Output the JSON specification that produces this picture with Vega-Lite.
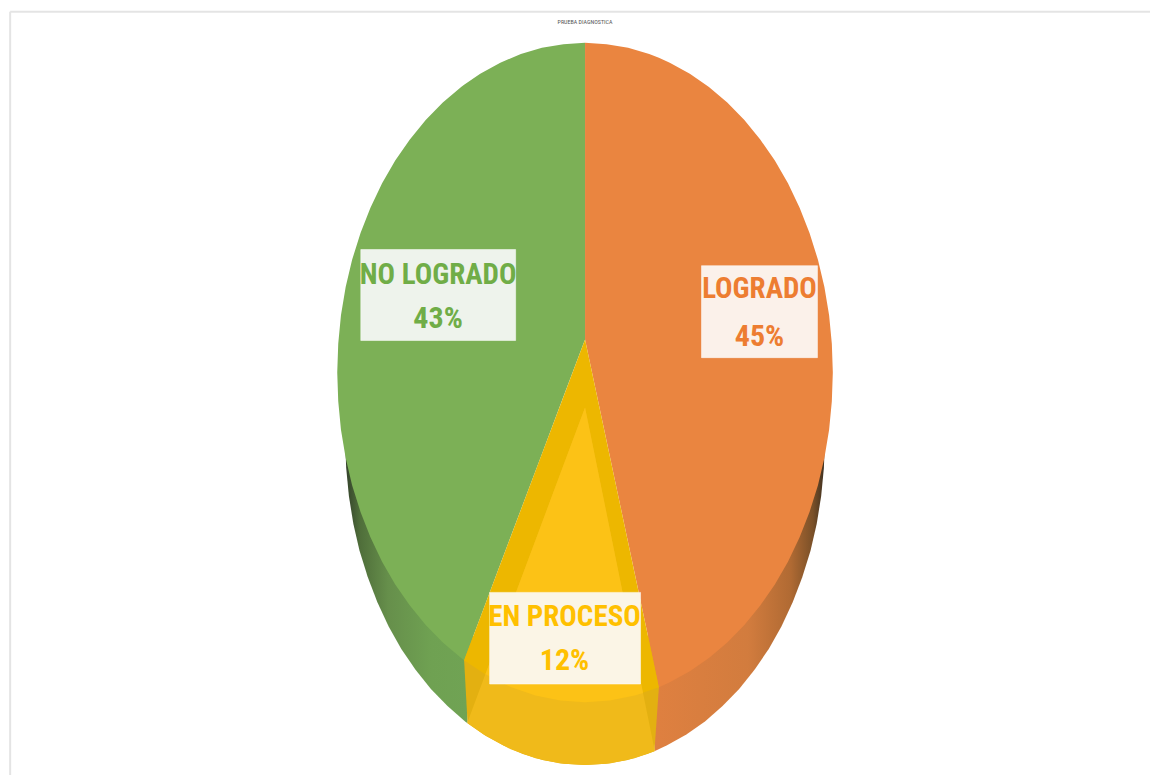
{"$schema":"https://vega.github.io/schema/vega-lite/v6.json","width":1151,"height":776,"autosize":{"type":"fit","contains":"padding"},"padding":0,"background":"white","view":{"stroke":null},
"title":{"text":"PRUEBA DIAGNOSTICA","fontSize":6,"font":"Roboto Condensed","fontWeight":"normal","color":"#555555","offset":-25,"anchor":"middle","frame":"group","dx":10},
"datasets":{
"caraVerde":[{"x":-100,"y":0,"y2":0},{"x":-99.6,"y":8.7,"y2":-8.7},{"x":-98.5,"y":17.4,"y2":-17.4},{"x":-96.6,"y":25.9,"y2":-25.9},{"x":-94,"y":34.2,"y2":-34.2},{"x":-90.6,"y":42.3,"y2":-42.3},{"x":-86.6,"y":50,"y2":-50},{"x":-81.9,"y":57.4,"y2":-57.4},{"x":-76.6,"y":64.3,"y2":-64.3},{"x":-70.7,"y":70.7,"y2":-70.7},{"x":-64.3,"y":76.6,"y2":-76.6},{"x":-57.4,"y":81.9,"y2":-81.9},{"x":-50,"y":86.6,"y2":-86.6},{"x":-48.8,"y":87.3,"y2":-87.3},{"x":-42.3,"y":90.6,"y2":-74.4},{"x":-34.2,"y":94,"y2":-58.2},{"x":-25.9,"y":96.6,"y2":-41.6},{"x":-17.4,"y":98.5,"y2":-24.7},{"x":-8.7,"y":99.6,"y2":-7.3},{"x":0,"y":100,"y2":10}],
"caraNaranja":[{"x":0,"y":100,"y2":10},{"x":8.7,"y":99.6,"y2":-20.8},{"x":17.4,"y":98.5,"y2":-51.6},{"x":25.9,"y":96.6,"y2":-81.7},{"x":29.8,"y":95.5,"y2":-95.5},{"x":34.2,"y":94,"y2":-94},{"x":42.3,"y":90.6,"y2":-90.6},{"x":50,"y":86.6,"y2":-86.6},{"x":57.4,"y":81.9,"y2":-81.9},{"x":64.3,"y":76.6,"y2":-76.6},{"x":70.7,"y":70.7,"y2":-70.7},{"x":76.6,"y":64.3,"y2":-64.3},{"x":81.9,"y":57.4,"y2":-57.4},{"x":86.6,"y":50,"y2":-50},{"x":90.6,"y":42.3,"y2":-42.3},{"x":94,"y":34.2,"y2":-34.2},{"x":96.6,"y":25.9,"y2":-25.9},{"x":98.5,"y":17.4,"y2":-17.4},{"x":99.6,"y":8.7,"y2":-8.7},{"x":100,"y":0,"y2":0}],
"caraAmarilla":[{"x":-48.8,"y":-87.3,"y2":-87.3},{"x":-40,"y":-69.8,"y2":-91.7},{"x":-30,"y":-49.8,"y2":-95.4},{"x":-20,"y":-29.9,"y2":-98},{"x":-10,"y":-9.9,"y2":-99.5},{"x":0,"y":10,"y2":-100},{"x":10,"y":-25.4,"y2":-99.5},{"x":20,"y":-60.8,"y2":-98},{"x":29.8,"y":-95.5,"y2":-95.5}],
"brilloLado":[{"x":-47.4,"y":-106,"y2":-106.4},{"x":-40,"y":-91.1,"y2":-110.3},{"x":-30,"y":-71,"y2":-114.3},{"x":-20,"y":-50.9,"y2":-117},{"x":-10,"y":-30.7,"y2":-118.6},{"x":0,"y":-10.6,"y2":-119.1},{"x":10,"y":-47.6,"y2":-118.6},{"x":20,"y":-84.6,"y2":-117},{"x":28,"y":-114.2,"y2":-114.9}],
"brilloCara":[{"x":-40.2,"y":-91.5,"y2":-91.5},{"x":-30,"y":-71,"y2":-95.4},{"x":-20,"y":-50.9,"y2":-98},{"x":-10,"y":-30.7,"y2":-99.5},{"x":0,"y":-10.6,"y2":-100},{"x":10,"y":-47.6,"y2":-99.5},{"x":20,"y":-84.6,"y2":-98},{"x":23.4,"y":-97.2,"y2":-97.2}],
"ladoVerde":[{"x":-96.8,"y":-20.3,"y2":-20.3},{"x":-96.4,"y":-20,"y2":-28.9},{"x":-95.3,"y":-20,"y2":-37.5},{"x":-93.5,"y":-20,"y2":-45.9},{"x":-91,"y":-20,"y2":-54.1},{"x":-87.7,"y":-20,"y2":-62},{"x":-83.8,"y":-20,"y2":-69.7},{"x":-79.3,"y":-20,"y2":-77},{"x":-74.2,"y":-20,"y2":-83.8},{"x":-68.4,"y":-20,"y2":-90.2},{"x":-62.2,"y":-20,"y2":-96},{"x":-55.5,"y":-20,"y2":-101.2},{"x":-48.4,"y":-20,"y2":-105.9},{"x":-47.4,"y":-20,"y2":-106.4}],
"ladoAmarillo":[{"x":-48.8,"y":-87.3,"y2":-87.3},{"x":-47.4,"y":-80,"y2":-106.4},{"x":-40.9,"y":-80,"y2":-109.8},{"x":-33.1,"y":-80,"y2":-113.1},{"x":-25.1,"y":-80,"y2":-115.7},{"x":-16.8,"y":-80,"y2":-117.6},{"x":-8.4,"y":-80,"y2":-118.7},{"x":0,"y":-80,"y2":-119.1},{"x":8.4,"y":-80,"y2":-118.7},{"x":16.8,"y":-80,"y2":-117.6},{"x":25.1,"y":-80,"y2":-115.7},{"x":28,"y":-80,"y2":-114.9},{"x":29.8,"y":-95.5,"y2":-95.5}],
"ladoNaranja":[{"x":28,"y":-20,"y2":-114.9},{"x":33.1,"y":-20,"y2":-113.1},{"x":40.9,"y":-20,"y2":-109.8},{"x":48.4,"y":-20,"y2":-105.9},{"x":55.5,"y":-20,"y2":-101.2},{"x":62.2,"y":-20,"y2":-96},{"x":68.4,"y":-20,"y2":-90.2},{"x":74.2,"y":-20,"y2":-83.8},{"x":79.3,"y":-20,"y2":-77},{"x":83.8,"y":-20,"y2":-69.7},{"x":87.7,"y":-20,"y2":-62},{"x":91,"y":-20,"y2":-54.1},{"x":93.5,"y":-20,"y2":-45.9},{"x":95.3,"y":-20,"y2":-37.5},{"x":96.4,"y":-20,"y2":-28.9},{"x":96.8,"y":-20.3,"y2":-20.3}],
"etiquetas":[{"nivel":"LOGRADO","porcentaje":0.45,"x":70.4,"yn":25.2,"yp":10.9,"x1":47,"x2":93.8,"y1":32.4,"y2":4.5,"fondo":"#fbf1ea","tinta":"#ed7d31"},{"nivel":"EN PROCESO","porcentaje":0.12,"x":-8.3,"yn":-74.2,"yp":-87.6,"x1":-38.5,"x2":22.4,"y1":-66.7,"y2":-94.5,"fondo":"#fbf5e6","tinta":"#ffc000"},{"nivel":"NO LOGRADO","porcentaje":0.43,"x":-59.3,"yn":29.7,"yp":16.1,"x1":-90.5,"x2":-28,"y1":37.3,"y2":9.7,"fondo":"#eef3ec","tinta":"#70ad47"}],
"marco":[{"x":-232,"x2":228,"y":109.4,"y2":109.4},{"x":-232,"x2":-232,"y":109.4,"y2":-122.1}]
},
"encoding":{"x":{"field":"x","type":"quantitative","axis":null,"scale":{"domain":[-236.1,228],"nice":false,"zero":false}},"y":{"field":"y","type":"quantitative","axis":null,"scale":{"domain":[-122.1,113],"nice":false,"zero":false}},"y2":{"field":"y2"}},
"layer":[
{"data":{"name":"marco"},"mark":{"type":"rule","color":"#e4e4e4","strokeWidth":2},"encoding":{"x2":{"field":"x2"}}},
{"data":{"name":"ladoVerde"},"mark":{"type":"area","color":{"gradient":"linear","x1":0,"x2":1,"y1":0,"y2":0,"stops":[{"offset":0,"color":"#33402a"},{"offset":0.12,"color":"#4f6e3a"},{"offset":0.35,"color":"#668f4b"},{"offset":0.7,"color":"#6fa152"},{"offset":1,"color":"#70a354"}]}}},
{"data":{"name":"ladoNaranja"},"mark":{"type":"area","color":{"gradient":"linear","x1":0,"x2":1,"y1":0,"y2":0,"stops":[{"offset":0,"color":"#df8040"},{"offset":0.55,"color":"#d27c3e"},{"offset":0.8,"color":"#b06a33"},{"offset":0.93,"color":"#7a5028"},{"offset":1,"color":"#3d3020"}]}}},
{"data":{"name":"ladoAmarillo"},"mark":{"type":"area","color":"#e3b011"}},
{"data":{"name":"caraVerde"},"mark":{"type":"area","color":"#7cb056"}},
{"data":{"name":"caraNaranja"},"mark":{"type":"area","color":"#ea8540"}},
{"data":{"name":"caraAmarilla"},"mark":{"type":"area","color":"#edb700"}},
{"data":{"name":"brilloLado"},"mark":{"type":"area","color":"#f0ba1a"}},
{"data":{"name":"brilloCara"},"mark":{"type":"area","color":"#fcc216"}},
{"data":{"name":"etiquetas"},"mark":{"type":"rect","strokeWidth":1,"stroke":"#ffffff","strokeOpacity":0.5},"encoding":{"x":{"field":"x1","type":"quantitative"},"x2":{"field":"x2"},"y":{"field":"y1","type":"quantitative"},"y2":{"field":"y2"},"color":{"field":"fondo","type":"nominal","scale":null}}},
{"data":{"name":"etiquetas"},"mark":{"type":"text","font":"Roboto Condensed, Liberation Sans","fontWeight":"bold","fontSize":29,"align":"center","baseline":"middle"},"encoding":{"y":{"field":"yn","type":"quantitative"},"y2":null,"text":{"field":"nivel"},"color":{"field":"tinta","type":"nominal","scale":null}}},
{"data":{"name":"etiquetas"},"mark":{"type":"text","font":"Roboto Condensed, Liberation Sans","fontWeight":"bold","fontSize":30,"align":"center","baseline":"middle"},"encoding":{"y":{"field":"yp","type":"quantitative"},"y2":null,"text":{"field":"porcentaje","type":"quantitative","format":".0%"},"color":{"field":"tinta","type":"nominal","scale":null}}}
]}
